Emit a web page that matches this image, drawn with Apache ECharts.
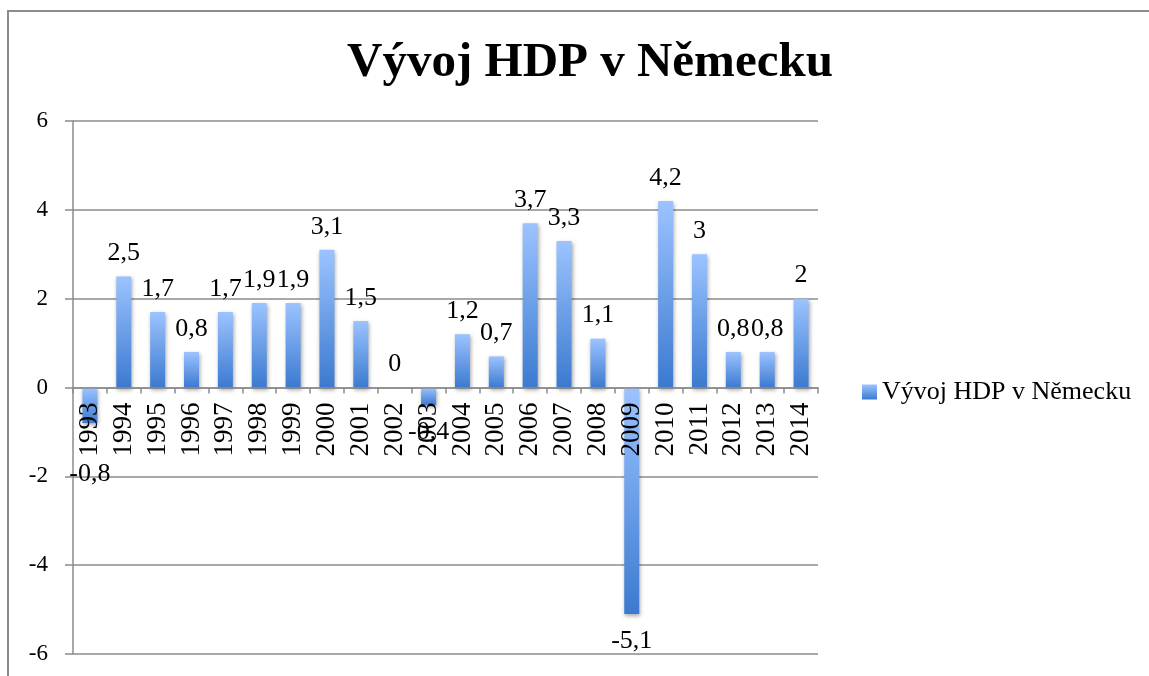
<!DOCTYPE html>
<html>
<head>
<meta charset="utf-8">
<script src="https://cdn.jsdelivr.net/npm/echarts@6/dist/echarts.min.js"></script>
<style>
html,body{margin:0;padding:0;background:#fff;}
#chart{width:1149px;height:676px;}
</style>
</head>
<body>
<div id="chart"></div>
<script>
var titleText = 'Vývoj HDP v Německu';
var seriesName = 'Vývoj HDP v Německu';
var years = ['1993','1994','1995','1996','1997','1998','1999','2000','2001','2002','2003','2004','2005','2006','2007','2008','2009','2010','2011','2012','2013','2014'];
var gdp = [-0.8, 2.5, 1.7, 0.8, 1.7, 1.9, 1.9, 3.1, 1.5, 0, -0.4, 1.2, 0.7, 3.7, 3.3, 1.1, -5.1, 4.2, 3, 0.8, 0.8, 2];
var yMin = -6, yMax = 6, yStep = 2;

var FONT = '"Liberation Serif", serif';
var GRID = {left: 73, right: 331, top: 121, bottom: 22};
var plotH = 676 - GRID.top - GRID.bottom;
var zeroOffset = -plotH * (0 - yMin) / (yMax - yMin);

var chart = echarts.init(document.getElementById('chart'));
var grad = new echarts.graphic.LinearGradient(0, 0, 0, 1, [
  {offset: 0, color: '#9CC3FF'},
  {offset: 1, color: '#3B7AD0'}
]);
var dataItems = gdp.map(function (v, i) {
  var item = {value: v};
  if (v < 0) {
    item.label = {position: 'bottom', distance: 14};
    if (i === 0) item.label.offset = [0, 24];
  }
  return item;
});
chart.setOption({
  animation: false,
  backgroundColor: '#fff',
  graphic: [{
    type: 'rect', z: -10,
    shape: {x: 8, y: 11, width: 1200, height: 700},
    style: {fill: 'none', stroke: '#8c8c8c', lineWidth: 2}
  }],
  title: {
    text: titleText,
    left: 585, top: 34, textAlign: 'center',
    textStyle: {fontFamily: FONT, fontWeight: 'bold', fontSize: 49, color: '#000'}
  },
  legend: {
    left: 857, top: 374,
    itemWidth: 15, itemHeight: 15,
    icon: 'rect',
    textStyle: {fontFamily: FONT, fontSize: 26, color: '#000'},
    data: [seriesName]
  },
  grid: {left: GRID.left, right: GRID.right, top: GRID.top, bottom: GRID.bottom, containLabel: false, outerBoundsMode: 'none'},
  xAxis: {
    type: 'category',
    data: years,
    position: 'bottom',
    offset: zeroOffset,
    z: 10,
    axisLine: {onZero: false, lineStyle: {color: '#8c8c8c', width: 1.5}},
    axisTick: {show: true, length: 6, lineStyle: {color: '#8c8c8c', width: 1.5}},
    axisLabel: {rotate: 90, margin: 15, fontFamily: FONT, fontSize: 27, color: '#000', interval: 0}
  },
  yAxis: {
    type: 'value',
    min: yMin, max: yMax, interval: yStep,
    axisLine: {show: true, lineStyle: {color: '#8c8c8c', width: 1.5}},
    axisTick: {show: true, length: 8, lineStyle: {color: '#8c8c8c', width: 1.5}},
    splitLine: {show: true, lineStyle: {color: '#8c8c8c', width: 1.5}},
    axisLabel: {margin: 25, fontFamily: FONT, fontSize: 23, color: '#000'}
  },
  series: [{
    name: seriesName,
    type: 'bar',
    barWidth: 15,
    data: dataItems,
    itemStyle: {
      color: grad,
      shadowColor: 'rgba(0,0,0,0.35)', shadowBlur: 4, shadowOffsetX: 1, shadowOffsetY: 2
    },
    label: {
      show: true, position: 'top', distance: 10,
      fontFamily: FONT, fontSize: 26, color: '#000',
      formatter: function (p) { return String(p.value).replace('.', ','); }
    }
  }]
});
</script>
</body>
</html>
